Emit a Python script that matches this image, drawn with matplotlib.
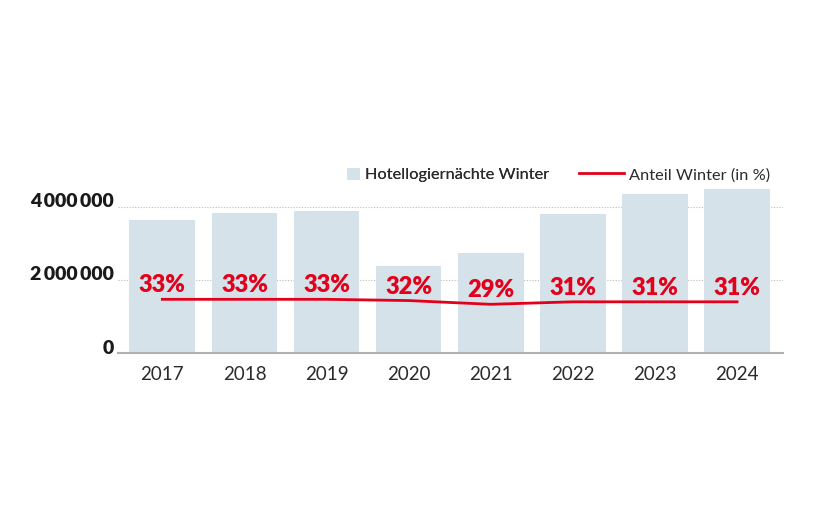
import matplotlib
matplotlib.use("Agg")
import matplotlib.pyplot as plt
from matplotlib.transforms import ScaledTranslation
from matplotlib.patches import Patch
from matplotlib.lines import Line2D

years = ["2017", "2018", "2019", "2020", "2021", "2022", "2023", "2024"]
nights = [3630000, 3820000, 3880000, 2390000, 2730000, 3810000, 4340000, 4470000]
share = [33, 33, 33, 32, 29, 31, 31, 31]
share_labels = ["33%", "33%", "33%", "32%", "29%", "31%", "31%", "31%"]
yticks = [0, 2000000, 4000000]
ytick_labels = ["0", "2\u2009000\u2009000", "4\u2009000\u2009000"]

BAR = "#d6e2ea"
RED = "#e2001a"
TXT = "#2b2b2b"

plt.rcParams['font.family'] = ['Lato', 'DejaVu Sans']

fig = plt.figure(figsize=(8.2, 5.13), dpi=100)
W, H = 820, 513
left, right = 118, 783
bottom, top = 353.3, 173.6
ax = fig.add_axes([left / W, 1 - bottom / H, (right - left) / W, (bottom - top) / H])

x = list(range(len(years)))
ax.bar(x, nights, width=0.8, color=BAR, zorder=2)
ax.set_xlim(-0.54, 7.56)
ax.set_ylim(0, 4.9e6)
ax.set_yticks(yticks)
ax.set_yticklabels(ytick_labels, fontsize=14, fontweight='heavy', color='#1a1a1a')
ax.set_xticks(x)
ax.set_xticklabels(years, fontsize=13.5, color=TXT)
ax.tick_params(axis='both', length=0)
ax.tick_params(axis='x', pad=9)
ax.tick_params(axis='y', pad=3)
for lab in ax.get_yticklabels():
    lab.set_transform(lab.get_transform() + ScaledTranslation(0, 6.5 / 100, fig.dpi_scale_trans))

ax.yaxis.grid(True, linestyle=(0, (1, 1.5)), color='#bbbbbb', linewidth=0.8, zorder=0)
ax.set_axisbelow(True)
for s in ['top', 'right', 'left']:
    ax.spines[s].set_visible(False)
ax.spines['bottom'].set_color('#b0b0b0')
ax.spines['bottom'].set_linewidth(1.5)
ax.spines['bottom'].set_zorder(3)

ax2 = ax.twinx()
ax2.set_ylim(-10.2, 133.6)
ax2.axis('off')
ax2.plot(x, share, color=RED, linewidth=2, zorder=3)
for xi, v, t in zip(x, share, share_labels):
    ax2.annotate(t, (xi, v), xytext=(0, 5), textcoords='offset points',
                 ha='center', va='baseline', fontsize=17, fontweight='heavy',
                 color=RED)

fs = 11.8
leg1 = fig.legend(handles=[Patch(facecolor=BAR, edgecolor='none', label='Hotellogiernächte Winter')],
                  loc='center left', bbox_to_anchor=(347 / W, 1 - 175 / H),
                  frameon=False, fontsize=fs, handlelength=0.8, handleheight=0.8,
                  handletextpad=0.3, borderpad=0, borderaxespad=0, labelcolor=TXT)
leg2 = fig.legend(handles=[Line2D([], [], color=RED, linewidth=2, label='Anteil Winter (in %)')],
                  loc='center left', bbox_to_anchor=(579 / W, 1 - 175 / H),
                  frameon=False, fontsize=fs, handlelength=2.75,
                  handletextpad=0.3, borderpad=0, borderaxespad=0, labelcolor=TXT)
fig.add_artist(leg1)

fig.savefig("out.png", dpi=100)
